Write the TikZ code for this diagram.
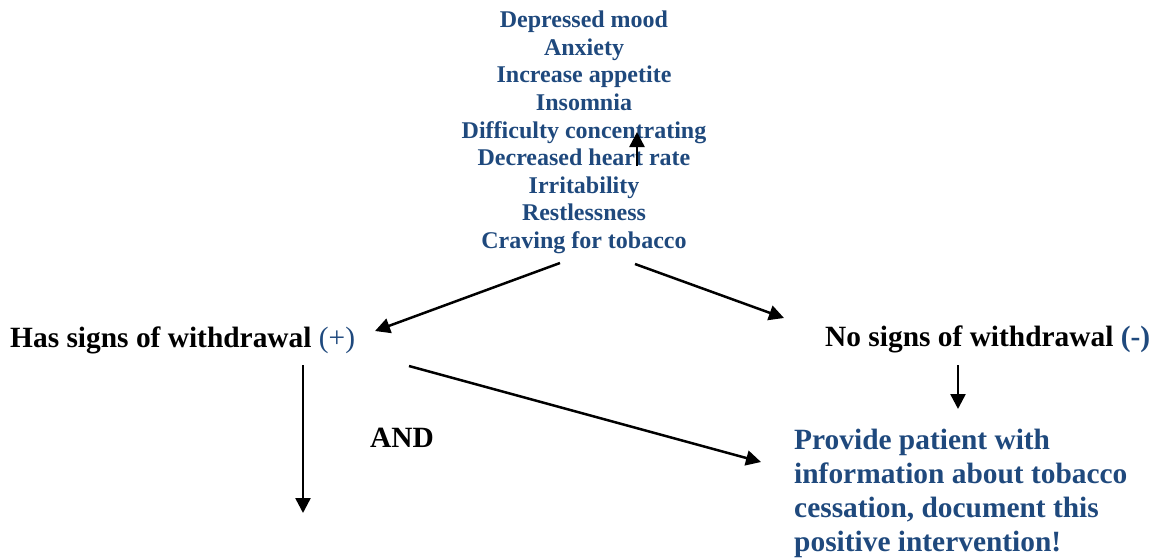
\documentclass[tikz,border=0pt]{standalone}
\usepackage{fontspec}
\setmainfont{Liberation Serif}
\usetikzlibrary{arrows.meta}
\definecolor{txtblue}{RGB}{31,73,125}
\tikzset{
  conn/.style={line width=2.5pt,-{Triangle[length=15pt,width=15pt]}},
  symp/.style={inner sep=0pt,align=center,text=txtblue,font=\bfseries\fontsize{24}{27.6}\selectfont},
  lbl/.style={inner sep=0pt,font=\bfseries\fontsize{29.4}{34}\selectfont},
  advice/.style={inner sep=0pt,align=left,text=txtblue,font=\bfseries\fontsize{29.4}{34}\selectfont}
}
\begin{document}
\begin{tikzpicture}[x=1pt,y=1pt]
\useasboundingbox (0,0) rectangle (1154,-557);
\node[symp,anchor=north] (symptoms) at (584,-10.8) {Depressed mood\\Anxiety\\Increase appetite\\Insomnia\\Difficulty concentrating\\Decreased heart rate\\Irritability\\Restlessness\\Craving for tobacco};
\node[lbl,anchor=base west] (has) at (10,-347) {Has signs of withdrawal \textcolor{txtblue}{\mdseries(+)}};
\node[lbl,anchor=base west] (no) at (825,-346) {No signs of withdrawal \textcolor{txtblue}{(-)}};
\node[lbl,anchor=base west] (and) at (370,-447) {AND};
\node[advice,anchor=north west] (provide) at (794,-428.4) {Provide patient with\\information about tobacco\\cessation, document this\\positive intervention!};
% arrow endpoints
\coordinate (upS) at (637,-166);
\coordinate (upE) at (637,-132);
\coordinate (l1S) at (560,-263);
\coordinate (l1E) at (375,-331);
\coordinate (r1S) at (635,-264);
\coordinate (r1E) at (784,-318);
\coordinate (dS) at (303,-365);
\coordinate (dE) at (303,-513);
\coordinate (xS) at (409,-366);
\coordinate (xE) at (761,-462);
\coordinate (nS) at (958,-365);
\coordinate (nE) at (958,-409);
\draw[conn] (upS) -- (upE);
\draw[conn] (l1S) -- (l1E);
\draw[conn] (r1S) -- (r1E);
\draw[conn] (dS) -- (dE);
\draw[conn] (xS) -- (xE);
\draw[conn] (nS) -- (nE);
\end{tikzpicture}
\end{document}
